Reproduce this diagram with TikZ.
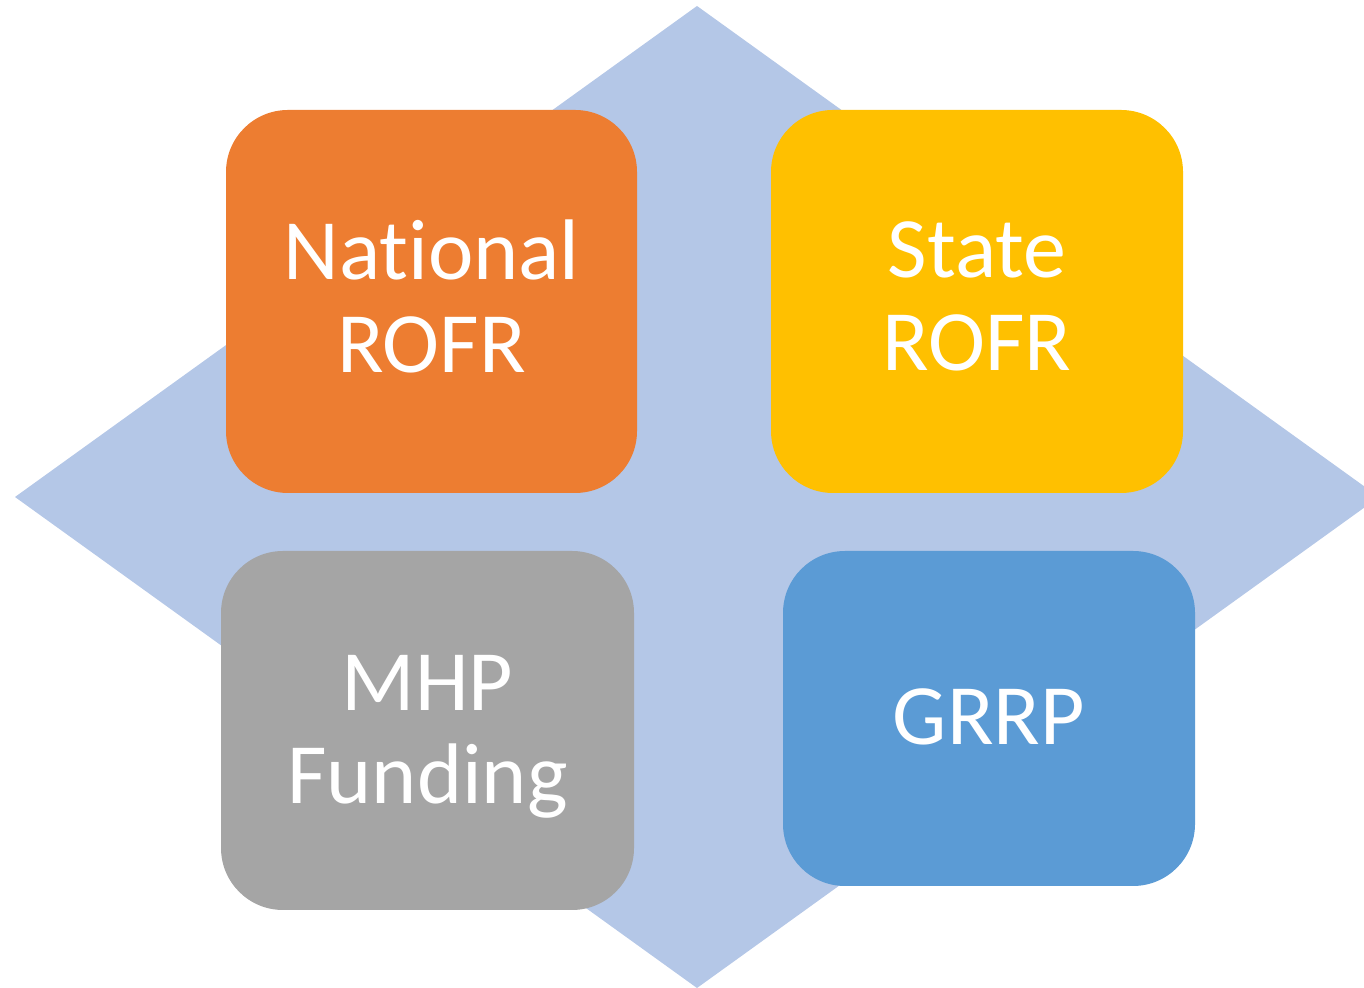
\documentclass[tikz,border=0pt]{standalone}
\usepackage{fontspec}
\setmainfont[Ligatures=NoCommon]{Carlito}
\definecolor{diamondblue}{HTML}{B4C7E7}
\definecolor{boxorange}{HTML}{ED7D31}
\definecolor{boxyellow}{HTML}{FFC000}
\definecolor{boxgray}{HTML}{A5A5A5}
\definecolor{boxblue}{HTML}{5B9BD5}
\begin{document}
\begin{tikzpicture}[x=1pt,y=1pt,
  tile/.style={rounded corners=62pt, inner sep=0pt},
  caption/.style={inner sep=0pt, text=white, align=center,
    font=\fontsize{86}{93}\selectfont},
]
\useasboundingbox (0,0) rectangle (1364,987);
% background diamond, its right tip runs past the frame
\begin{scope}
  \clip (0,0) rectangle (1364,987);
  \fill[diamondblue] (697,981) -- (1379,490) -- (697,-1) -- (15,490) -- cycle;
\end{scope}
% four tiles
\node[tile, fill=boxorange, minimum width=411pt, minimum height=383pt]
  (national) at (431.5,685.5) {};
\node[tile, fill=boxyellow, minimum width=412pt, minimum height=383pt]
  (state) at (977,685.5) {};
\node[tile, fill=boxgray, minimum width=413pt, minimum height=359pt]
  (mhp) at (427.5,256.5) {};
\node[tile, fill=boxblue, minimum width=412pt, minimum height=335pt]
  (grrp) at (989,268.5) {};
% tile captions
\node[caption] (nationaltext) at ([yshift=5pt]national.center) {National\\ROFR};
\node[caption] (statetext) at ([yshift=5pt]state.center) {State\\ROFR};
\node[caption] (mhptext) at ([yshift=-6pt]mhp.center) {MHP\\Funding};
\node[caption] (grrptext) at ([yshift=2pt]grrp.center) {GRRP};
\end{tikzpicture}
\end{document}
